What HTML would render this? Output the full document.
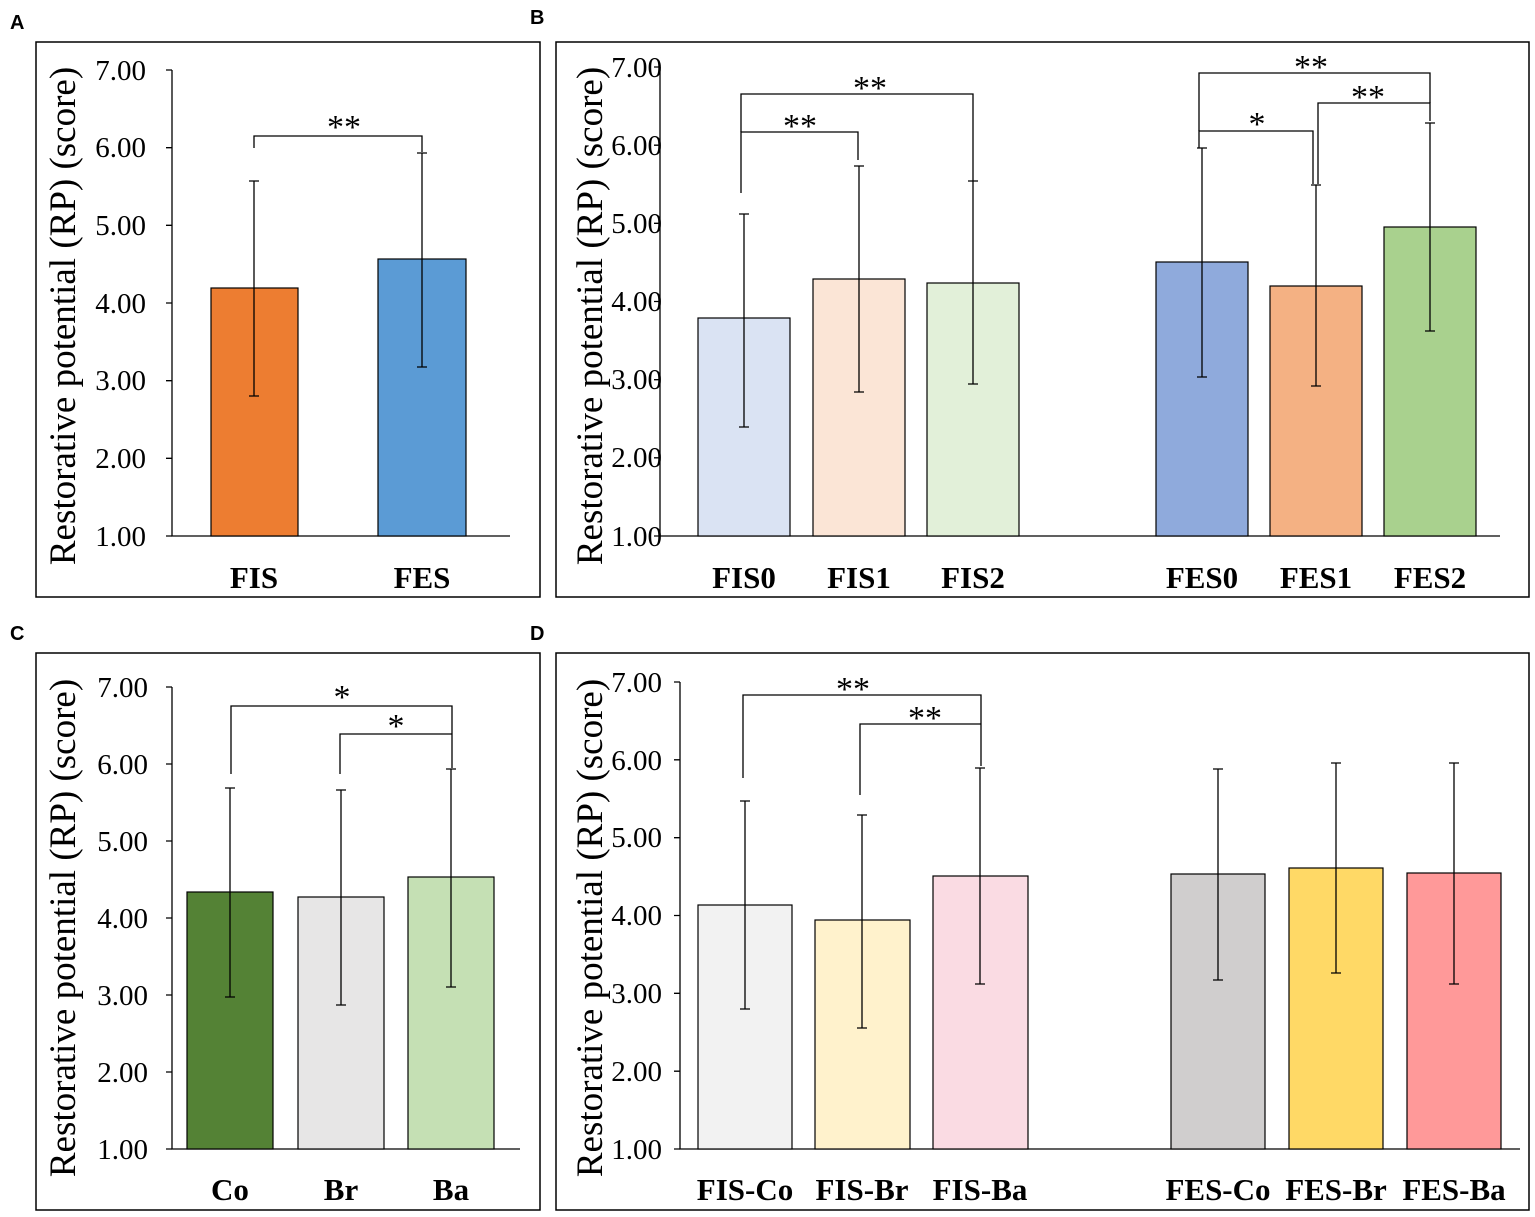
<!DOCTYPE html>
<html><head><style>body{margin:0;background:#fff}svg{display:block}</style></head><body>
<svg width="1535" height="1217" viewBox="0 0 1535 1217" xmlns="http://www.w3.org/2000/svg" font-family="Liberation Serif, serif">
<g font-family="Liberation Sans, sans-serif" font-weight="bold" font-size="20" fill="#000">
<text x="10" y="29">A</text><text x="530" y="24">B</text><text x="10" y="640">C</text><text x="530" y="640">D</text>
</g>
<g fill="none" stroke="#000" stroke-width="1.5">
<rect x="36" y="42" width="504" height="555"/><rect x="556" y="42" width="973" height="555"/>
<rect x="36" y="653" width="504" height="557"/><rect x="556" y="653" width="973" height="557"/>
</g>
<g font-size="29" text-anchor="end">
<text x="146" y="80">7.00</text><text x="146" y="157">6.00</text><text x="146" y="235">5.00</text><text x="146" y="313">4.00</text><text x="146" y="390">3.00</text><text x="146" y="468">2.00</text><text x="146" y="546">1.00</text>
<text x="662" y="77">7.00</text><text x="662" y="155">6.00</text><text x="662" y="233">5.00</text><text x="662" y="311">4.00</text><text x="662" y="389">3.00</text><text x="662" y="467">2.00</text><text x="662" y="546">1.00</text>
<text x="148" y="697">7.00</text><text x="148" y="774">6.00</text><text x="148" y="851">5.00</text><text x="148" y="928">4.00</text><text x="148" y="1005">3.00</text><text x="148" y="1082">2.00</text><text x="148" y="1159">1.00</text>
<text x="662" y="692">7.00</text><text x="662" y="770">6.00</text><text x="662" y="847">5.00</text><text x="662" y="925">4.00</text><text x="662" y="1003">3.00</text><text x="662" y="1081">2.00</text><text x="662" y="1159">1.00</text>
</g>
<g font-size="37" text-anchor="middle">
<text transform="translate(75,316) rotate(-90)">Restorative potential (RP) (score)</text>
<text transform="translate(602,316) rotate(-90)">Restorative potential (RP) (score)</text>
<text transform="translate(75,928) rotate(-90)">Restorative potential (RP) (score)</text>
<text transform="translate(602,928) rotate(-90)">Restorative potential (RP) (score)</text>
</g>
<g stroke="#000" stroke-width="1.3" fill="none">
<path d="M172,70V536H510"/>
<path d="M166,70H172M166,147.7H172M166,225.3H172M166,303H172M166,380.7H172M166,458.3H172M166,536H172"/>
<path d="M660,67V536H1500"/>
<path d="M654,67H660M654,145.2H660M654,223.3H660M654,301.5H660M654,379.7H660M654,457.8H660M654,536H660"/>
<path d="M172,687V1149H520"/>
<path d="M166,687H172M166,764H172M166,841H172M166,918H172M166,995H172M166,1072H172M166,1149H172"/>
<path d="M680,682V1149H1520"/>
<path d="M674,682H680M674,759.8H680M674,837.7H680M674,915.5H680M674,993.3H680M674,1071.2H680M674,1149H680"/>
</g>
<g stroke="#000" stroke-width="1.2">
<rect x="211" y="288" width="87" height="248" fill="#ed7d31"/>
<rect x="378" y="259" width="88" height="277" fill="#5b9bd5"/>
<rect x="698" y="318" width="92" height="218" fill="#dae3f3"/>
<rect x="813" y="279" width="92" height="257" fill="#fbe5d6"/>
<rect x="927" y="283" width="92" height="253" fill="#e2f0d9"/>
<rect x="1156" y="262" width="92" height="274" fill="#8faadc"/>
<rect x="1270" y="286" width="92" height="250" fill="#f4b183"/>
<rect x="1384" y="227" width="92" height="309" fill="#a9d18e"/>
<rect x="187" y="892" width="86" height="257" fill="#548235"/>
<rect x="298" y="897" width="86" height="252" fill="#e7e6e6"/>
<rect x="408" y="877" width="86" height="272" fill="#c5e0b4"/>
<rect x="698" y="905" width="94" height="244" fill="#f2f2f2"/>
<rect x="815" y="920" width="95" height="229" fill="#fff2cc"/>
<rect x="933" y="876" width="95" height="273" fill="#fadbe3"/>
<rect x="1171" y="874" width="94" height="275" fill="#d0cece"/>
<rect x="1289" y="868" width="94" height="281" fill="#ffd966"/>
<rect x="1407" y="873" width="94" height="276" fill="#ff9999"/>
</g>
<g stroke="#000" stroke-width="1.3" fill="none">
<path d="M254,396V181M249,396H259M249,181H259"/>
<path d="M422,367V153M417,367H427M417,153H427"/>
<path d="M744,427V214M739,427H749M739,214H749"/>
<path d="M859,392V166M854,392H864M854,166H864"/>
<path d="M973,384V181M968,384H978M968,181H978"/>
<path d="M1202,377V148M1197,377H1207M1197,148H1207"/>
<path d="M1316,386V185M1311,386H1321M1311,185H1321"/>
<path d="M1430,331V123M1425,331H1435M1425,123H1435"/>
<path d="M230,997V788M225,997H235M225,788H235"/>
<path d="M341,1005V790M336,1005H346M336,790H346"/>
<path d="M451,987V769M446,987H456M446,769H456"/>
<path d="M745,1009V801M740,1009H750M740,801H750"/>
<path d="M862,1028V815M857,1028H867M857,815H867"/>
<path d="M980,984V768M975,984H985M975,768H985"/>
<path d="M1218,980V769M1213,980H1223M1213,769H1223"/>
<path d="M1336,973V763M1331,973H1341M1331,763H1341"/>
<path d="M1454,984V763M1449,984H1459M1449,763H1459"/>
<path d="M254,148V136H422V152"/>
<path d="M741,193V132H858V160"/>
<path d="M741,132V94H973V181"/>
<path d="M1199,148V131H1313V184"/>
<path d="M1199,131V73H1430V103"/>
<path d="M1318,184V103H1430V121"/>
<path d="M231,774V706H452V768"/>
<path d="M340,774V734H452"/>
<path d="M743,778V695H981V766"/>
<path d="M860,795V724H981"/>
</g>
<g font-size="34" text-anchor="middle">
<text x="344" y="138">**</text>
<text x="800" y="137">**</text><text x="870" y="99">**</text>
<text x="1257" y="135">*</text><text x="1311" y="78">**</text><text x="1368" y="108">**</text>
<text x="342" y="708">*</text><text x="396" y="737">*</text>
<text x="853" y="700">**</text><text x="925" y="729">**</text>
</g>
<g font-size="31" font-weight="bold" text-anchor="middle">
<text x="254" y="588">FIS</text><text x="422" y="588">FES</text>
<text x="744" y="588">FIS0</text><text x="859" y="588">FIS1</text><text x="973" y="588">FIS2</text>
<text x="1202" y="588">FES0</text><text x="1316" y="588">FES1</text><text x="1430" y="588">FES2</text>
<text x="230" y="1200">Co</text><text x="341" y="1200">Br</text><text x="451" y="1200">Ba</text>
<text x="745" y="1200">FIS-Co</text><text x="862" y="1200">FIS-Br</text><text x="980" y="1200">FIS-Ba</text>
<text x="1218" y="1200">FES-Co</text><text x="1336" y="1200">FES-Br</text><text x="1454" y="1200">FES-Ba</text>
</g>
</svg>
</body></html>
